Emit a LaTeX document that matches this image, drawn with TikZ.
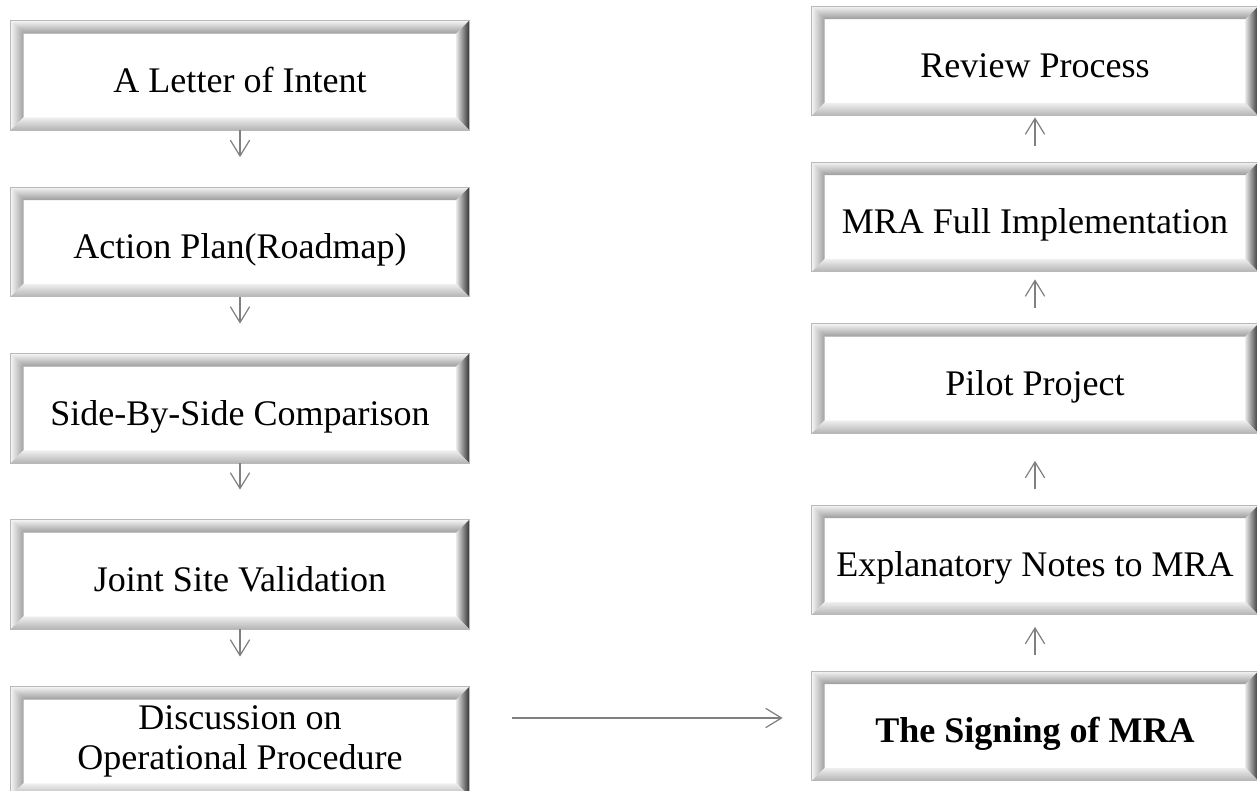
\documentclass[tikz,border=0pt]{standalone}
\usepackage{fontspec}
\setmainfont{Liberation Serif}
\usetikzlibrary{arrows.meta}

\tikzset{
	stage/.style={rectangle, inner sep=0pt, minimum width=9.16cm, minimum height=2.18cm, align=center, font=\fontsize{20.5}{22.7}\selectfont},
	onel/.style={text height=23pt, text depth=4pt},
	rstage/.style={stage, onel, minimum width=8.92cm},
	flow/.style={draw=gray, line width=0.7pt, -{Straight Barb[length=9pt,width=11pt]}},
	bevtop/.style={top color=gray!8, bottom color=gray!78},
	bevleft/.style={left color=gray!8, right color=gray!75},
	bevright/.style={left color=gray!20, right color=black!80},
	bevbottom/.style={top color=gray!12, bottom color=gray!60},
}

\begin{document}
\begin{tikzpicture}

	\useasboundingbox (0,0) rectangle (25.14,15.82);
	\clip (0,0) rectangle (25.14,15.82);

	% left column
	\node 	(lett)		at	(4.8,14.31) 	[stage,onel]{A Letter of Intent};
	\node 	(plan)		at	(4.8,10.98) 	[stage,onel]{Action Plan(Roadmap)};
	\node 	(comp)		at	(4.8,7.65) 	[stage,onel]{Side-By-Side Comparison};
	\node 	(vali)		at	(4.8,4.33) 	[stage,onel]{Joint Site Validation};
	\node 	(disc)		at	(4.8,0.99) 	[stage]{Discussion on\\Operational Procedure};

	% right column
	\node 	(rev)		at	(20.7,14.6) 	[rstage]{Review Process};
	\node 	(impl)		at	(20.7,11.48) 	[rstage]{MRA Full Implementation};
	\node 	(pilot)		at	(20.7,8.25) 	[rstage]{Pilot Project};
	\node 	(note)		at	(20.7,4.62) 	[rstage]{Explanatory Notes to MRA};
	\node 	(sign)		at	(20.7,1.3) 	[rstage]{\textbf{The Signing of MRA}};

	% bevelled frames
	\foreach \b in {lett,plan,comp,vali,disc,rev,impl,pilot,note,sign}{
		\path[bevtop] (\b.north west) -- (\b.north east) -- ([shift={(-0.26,-0.26)}]\b.north east) -- ([shift={(0.26,-0.26)}]\b.north west) -- cycle;
		\path[bevleft] (\b.north west) -- ([shift={(0.26,-0.26)}]\b.north west) -- ([shift={(0.26,0.26)}]\b.south west) -- (\b.south west) -- cycle;
		\path[bevright] (\b.north east) -- (\b.south east) -- ([shift={(-0.26,0.26)}]\b.south east) -- ([shift={(-0.26,-0.26)}]\b.north east) -- cycle;
		\path[bevbottom] (\b.south west) -- ([shift={(0.26,0.26)}]\b.south west) -- ([shift={(-0.26,0.26)}]\b.south east) -- (\b.south east) -- cycle;
		\draw[gray!55, line width=0.5pt] (\b.south west) rectangle (\b.north east);
	}

	\draw[flow, shorten >=0.6cm]	(lett)	--	(plan);
	\draw[flow, shorten >=0.6cm]	(plan)	--	(comp);
	\draw[flow, shorten >=0.6cm]	(comp)	--	(vali);
	\draw[flow, shorten >=0.6cm]	(vali)	--	(disc);

	\draw[flow, shorten <=0.86cm, shorten >=0.58cm]	([yshift=0.16cm]disc.east |- sign.west)	--	([yshift=0.16cm]sign.west);

	\draw[flow, shorten <=0.32cm, shorten >=0.24cm]	(sign)	--	(note);
	\draw[flow, shorten <=0.32cm, shorten >=0.55cm]	(note)	--	(pilot);
	\draw[flow, shorten <=0.32cm, shorten >=0.15cm]	(pilot)	--	(impl);
	\draw[flow, shorten <=0.32cm, shorten >=0.03cm]	(impl)	--	(rev);

\end{tikzpicture}
\end{document}
